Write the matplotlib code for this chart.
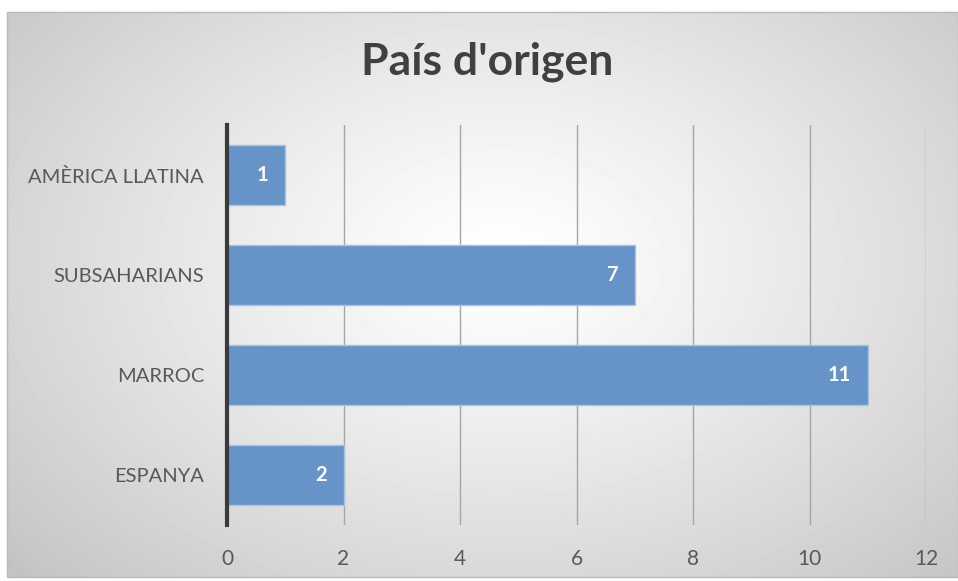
import numpy as np
import matplotlib.pyplot as plt
from matplotlib.patches import Rectangle

categories = ["ESPANYA", "MARROC", "SUBSAHARIANS", "AMÈRICA LLATINA"]
values = [2, 11, 7, 1]
x_ticks = [0, 2, 4, 6, 8, 10, 12]
title = "País d'origen"

plt.rcParams['font.family'] = ['Lato', 'DejaVu Sans']

W, H = 958, 581
fig = plt.figure(figsize=(W / 100, H / 100), dpi=100)

# background: radial grey gradient inside the chart frame
bg = fig.add_axes([0, 0, 1, 1], zorder=-10)
yy, xx = np.mgrid[0:H, 0:W]
r = np.sqrt(((xx - 500) / 480.0) ** 2 + ((yy - 260) / 330.0) ** 2) / 1.414
v = 1 - 0.24 * np.clip(r, 0, 1) ** 1.2
img = np.ones((H, W))
x0, y0, x1, y1 = 7, 12, 958, 577
img[y0:y1, x0:x1] = v[y0:y1, x0:x1]
bg.imshow(img, cmap='gray', vmin=0, vmax=1, extent=[0, W, H, 0], aspect='auto', interpolation='bilinear')
bg.add_patch(Rectangle((x0, y0), x1 - x0, y1 - y0, fill=False, edgecolor='#b8b8b8', lw=1))
bg.set_xlim(0, W)
bg.set_ylim(H, 0)
bg.axis('off')

ax = fig.add_axes([227 / W, 1 - 525 / H, (926 - 227) / W, 400 / H])
ax.patch.set_alpha(0)
pos = np.arange(len(categories))
bars = ax.barh(pos, values, height=0.6, color='#6794c8', edgecolor='#a8c2e2', linewidth=1, zorder=3)
for b, val in zip(bars, values):
    ax.annotate(str(val), (b.get_width(), b.get_y() + b.get_height() / 2),
                xytext=(-12, 0), textcoords='offset points', ha='right', va='center',
                color='white', fontsize=14.5, fontweight='bold', zorder=4)

ax.set_xlim(0, 12)
ax.set_ylim(-0.5, len(categories) - 0.5)
ax.set_xticks(x_ticks)
ax.set_yticks(pos)
ax.set_yticklabels(categories)
ax.tick_params(axis='x', length=0, pad=17.5, labelsize=15, labelcolor='#595959')
ax.tick_params(axis='y', length=0, pad=16.5, labelsize=14.5, labelcolor='#595959')
ax.grid(axis='x', color='#a6a6a6', lw=1, zorder=0)
for s in ['top', 'right', 'bottom']:
    ax.spines[s].set_visible(False)
ax.spines['left'].set_color('#3a3a3a')
ax.spines['left'].set_linewidth(3)
ax.spines['left'].set_zorder(5)

fig.text(487 / W, 1 - 62 / H, title, ha='center', va='center', fontsize=32,
         fontweight='bold', color='#404040')

fig.savefig('out.png', dpi=100)
